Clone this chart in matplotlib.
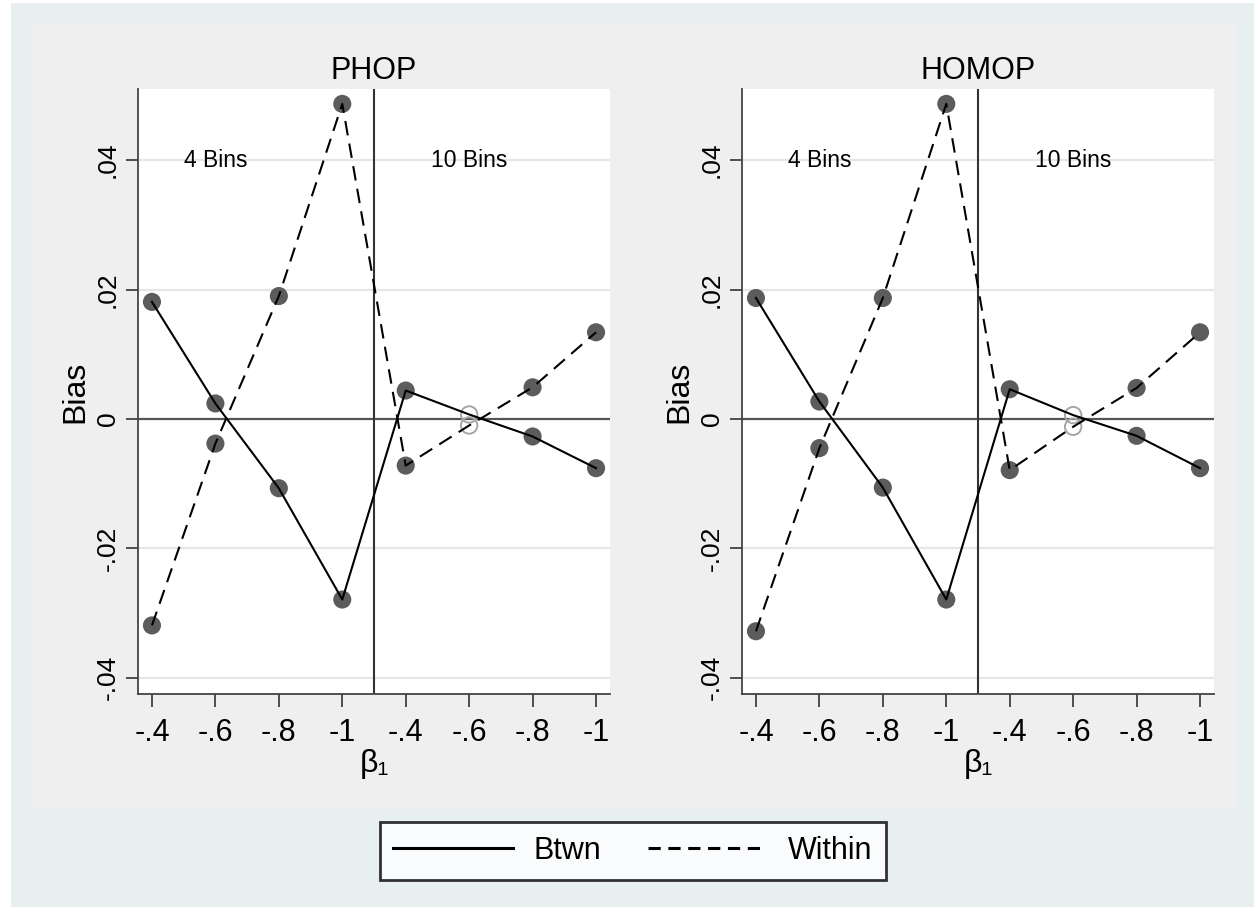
import matplotlib.pyplot as plt
from matplotlib.lines import Line2D
from matplotlib.patches import Rectangle

plt.rcParams['font.family'] = ['Liberation Sans', 'DejaVu Sans']

# x categories: beta_1 under 4 bins, then under 10 bins
tick_labels = ['-.4', '-.6', '-.8', '-1', '-.4', '-.6', '-.8', '-1']
x_pos = list(range(8))
hollow_idx = 5  # the 10-bin, beta=-.6 point drawn hollow

panels = ['PHOP', 'HOMOP']
btwn = {
    'PHOP':  [0.0181, 0.0024, -0.0107, -0.0279, 0.0044, 0.0007, -0.0027, -0.0076],
    'HOMOP': [0.0187, 0.0027, -0.0106, -0.0279, 0.0046, 0.0006, -0.0026, -0.0076],
}
within = {
    'PHOP':  [-0.0319, -0.0038, 0.0190, 0.0487, -0.0072, -0.0010, 0.0049, 0.0134],
    'HOMOP': [-0.0328, -0.0045, 0.0187, 0.0487, -0.0079, -0.0012, 0.0048, 0.0134],
}
y_ticks = [-0.04, -0.02, 0, 0.02, 0.04]
y_tick_labels = ['-.04', '-.02', '0', '.02', '.04']

W, H = 1254, 907
fig = plt.figure(figsize=(W / 100, H / 100), dpi=100)
fig.patch.set_facecolor('white')

# background bands (Stata-style graph regions)
fig.patches.append(Rectangle((11 / W, 0), 1 - 11 / W, 1 - 3 / H, transform=fig.transFigure,
                             facecolor='#e8eff1', edgecolor='none', zorder=-3))
fig.patches.append(Rectangle((32 / W, 1 - 809 / H), (1237 - 32) / W, (809 - 25) / H,
                             transform=fig.transFigure, facecolor='#efefef',
                             edgecolor='none', zorder=-2))

mark_col = '#5c5c5c'
lefts = [138, 742]
for name, left in zip(panels, lefts):
    ax = fig.add_axes([left / W, 1 - 694 / H, 472 / W, 605 / H])
    ax.set_facecolor('white')
    ax.set_xlim(-0.22, 7.22)
    ax.set_ylim(-0.0425, 0.0510)

    for yt in y_ticks:
        if yt != 0:
            ax.axhline(yt, color='#e6e6e6', lw=1.6, zorder=0)
    ax.axhline(0, color='#555555', lw=1.6, zorder=1)
    ax.axvline(3.5, color='#333333', lw=1.5, zorder=1)

    b = btwn[name]
    w = within[name]
    filled = [i for i in x_pos if i != hollow_idx]
    for series in (b, w):
        ax.scatter([x_pos[i] for i in filled], [series[i] for i in filled],
                   s=170, color=mark_col, edgecolors='none', zorder=2)
        ax.scatter([x_pos[hollow_idx]], [series[hollow_idx]], s=140, facecolors='none',
                   edgecolors='#a6a6a6', linewidths=1.4, zorder=2)

    ax.plot(x_pos, b, color='black', lw=1.5, zorder=3)
    ax.plot(x_pos, w, color='black', lw=1.5, dashes=(7, 4), zorder=3)

    ax.text(1, 0.04, '4 Bins', ha='center', va='center', fontsize=16.5)
    ax.text(5, 0.04, '10 Bins', ha='center', va='center', fontsize=16.5)

    ax.set_xticks(x_pos)
    ax.set_xticklabels(tick_labels, fontsize=22)
    ax.set_yticks(y_ticks)
    ax.set_yticklabels(y_tick_labels, fontsize=19, rotation=90, va='center')
    ax.tick_params(axis='x', length=9, width=1.2, color='#333333', pad=8)
    ax.tick_params(axis='y', length=9, width=1.2, color='#333333', pad=4)

    for s in ['top', 'right']:
        ax.spines[s].set_visible(False)
    for s in ['left', 'bottom']:
        ax.spines[s].set_color('#444444')
        ax.spines[s].set_linewidth(1.3)

    ax.set_title(name, fontsize=22, pad=7)
    ax.set_xlabel('β₁', fontsize=23, labelpad=1)
    ax.set_ylabel('Bias', fontsize=23, labelpad=4)

handles = [Line2D([], [], color='black', lw=2.2),
           Line2D([], [], color='black', lw=2.2, dashes=(4, 2.5))]
leg = fig.legend(handles, ['Btwn', 'Within'], loc='center', bbox_to_anchor=(633 / W, 1 - 851 / H),
                 ncol=2, fontsize=22, handlelength=3.9, handletextpad=0.7, columnspacing=1.5,
                 borderpad=0.45, frameon=True, fancybox=False)
leg.get_frame().set_edgecolor('black')
leg.get_frame().set_linewidth(2)
leg.get_frame().set_facecolor('white')

fig.savefig('out.png', dpi=100)
